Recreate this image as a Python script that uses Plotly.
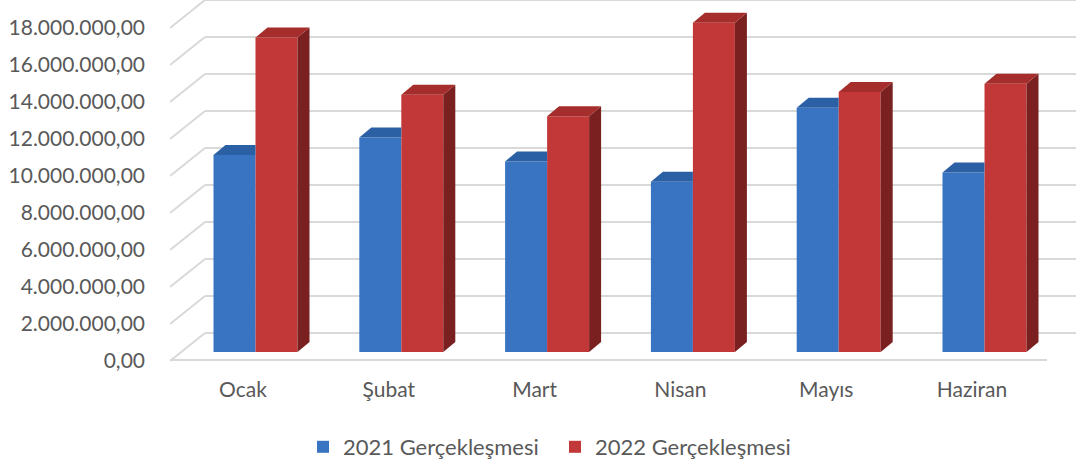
import numpy as np
import plotly.graph_objects as go

months = ["Ocak", "Şubat", "Mart", "Nisan", "Mayıs", "Haziran"]
series_names = ["2021 Gerçekleşmesi", "2022 Gerçekleşmesi"]
values_2021 = [10650000, 11600000, 10300000, 9200000, 13200000, 9700000]
values_2022 = [17000000, 13900000, 12750000, 17800000, 14050000, 14500000]
y_ticks = [0, 2000000, 4000000, 6000000, 8000000, 10000000, 12000000, 14000000, 16000000, 18000000]

# ---- geometry (pixel based oblique projection helpers) ----
W, H = 1076, 468
ML, MR, MT, MB = 170, 0, 0, 100
PX_X = 145.8            # px per category
X0_PX = 243             # pixel of category 0 label
PX_Y = 18.5 / 1e6       # px per unit value
BASE_PX = 352           # pixel of 0 on the bar plane

def xpx(p):
    return (p - X0_PX) / PX_X

def ypx(p):
    return (BASE_PX - p) / PX_Y

x_range = [xpx(ML), xpx(W - MR)]
y_range = [ypx(H - MB), ypx(MT)]
label_shift = (361 - BASE_PX) / PX_Y     # front plane offset
back_shift = (BASE_PX - 333) / PX_Y      # back wall offset

bw = 42 / PX_X
g = 12.5 / PX_X
ddx = 12 / PX_X
ddy = 10 / PX_Y

idx = np.arange(len(months))
v1 = np.array(values_2021, dtype=float)
v2 = np.array(values_2022, dtype=float)

c_blue, c_blue_top, c_blue_side = "#3874c2", "#2c60a4", "#234d86"
c_red, c_red_top, c_red_side = "#c23838", "#a52e2c", "#7a2020"
text_col = "#595959"
grid_col = "#d9d9d9"
FONT = "Lato"

def tr_fmt(t):
    s = f"{t:,.2f}"
    return s.replace(",", "#").replace(".", ",").replace("#", ".")

fig = go.Figure()

def polys(pts_list):
    xs, ys = [], []
    for pts in pts_list:
        for (a, b) in pts:
            xs.append(a)
            ys.append(b)
        xs.append(pts[0][0]); ys.append(pts[0][1])
        xs.append(None); ys.append(None)
    return xs, ys

# front faces (bars)
fig.add_trace(go.Bar(x=idx, y=v1, width=bw, offset=g - bw, name=series_names[0],
                     marker=dict(color=c_blue, line=dict(width=0)), hoverinfo="skip",
                     legend="legend"))
fig.add_trace(go.Bar(x=idx, y=v2, width=bw, offset=g, name=series_names[1],
                     marker=dict(color=c_red, line=dict(width=0)), hoverinfo="skip",
                     legend="legend2"))

# blue top faces (clipped at red front)
tops1 = []
for i, v in zip(idx, v1):
    xl, xr = i + g - bw, i + g
    tops1.append([(xl, v), (xl + ddx, v + ddy), (xr, v + ddy), (xr, v)])
xs, ys = polys(tops1)
fig.add_trace(go.Scatter(x=xs, y=ys, fill="toself", fillcolor=c_blue_top, mode="lines",
                         line=dict(width=0, color=c_blue_top), showlegend=False, hoverinfo="skip"))

# red side + top faces
sides2, tops2 = [], []
for i, v in zip(idx, v2):
    xl, xr = i + g, i + g + bw
    sides2.append([(xr, 0), (xr + ddx, ddy), (xr + ddx, v + ddy), (xr, v)])
    tops2.append([(xl, v), (xl + ddx, v + ddy), (xr + ddx, v + ddy), (xr, v)])
xs, ys = polys(sides2)
fig.add_trace(go.Scatter(x=xs, y=ys, fill="toself", fillcolor=c_red_side, mode="lines",
                         line=dict(width=0, color=c_red_side), showlegend=False, hoverinfo="skip"))
xs, ys = polys(tops2)
fig.add_trace(go.Scatter(x=xs, y=ys, fill="toself", fillcolor=c_red_top, mode="lines",
                         line=dict(width=0, color=c_red_top), showlegend=False, hoverinfo="skip"))

# walls: back gridlines + left wall diagonals
x_front_left = xpx(170)
x_back_left = xpx(205)
shapes = []
for t in y_ticks:
    yb = t + back_shift
    yf = t - label_shift
    shapes.append(dict(type="line", xref="x", yref="y", x0=x_back_left, x1=x_range[1],
                       y0=yb, y1=yb, line=dict(color=grid_col, width=2), layer="below"))
    shapes.append(dict(type="line", xref="x", yref="y", x0=x_front_left, x1=x_back_left,
                       y0=yf, y1=yb, line=dict(color=grid_col, width=2), layer="below"))
# floor front edge
shapes.append(dict(type="line", xref="x", yref="y", x0=x_front_left, x1=xpx(1047),
                   y0=ypx(360), y1=ypx(360), line=dict(color=grid_col, width=2), layer="below"))

def paper_x(p):
    return (p - ML) / (W - ML - MR)

leg_y = (H - MB - 447) / (H - MB - MT)
leg_font = dict(family=FONT, size=22, color=text_col)

fig.update_layout(
    width=W, height=H,
    margin=dict(l=ML, r=MR, t=MT, b=MB, autoexpand=False),
    paper_bgcolor="white", plot_bgcolor="white",
    barmode="overlay",
    font=dict(family=FONT, color=text_col, size=21),
    shapes=shapes,
    xaxis=dict(range=x_range, tickvals=idx, ticktext=months, showgrid=False, zeroline=False,
               showline=False, ticks="", ticklabelstandoff=7,
               tickfont=dict(family=FONT, size=21, color=text_col)),
    yaxis=dict(range=y_range, tickvals=[t - label_shift for t in y_ticks],
               ticktext=[tr_fmt(t) for t in y_ticks],
               showgrid=False, zeroline=False, showline=False, ticks="",
               ticklabelstandoff=24,
               tickfont=dict(family=FONT, size=21, color=text_col)),
    legend=dict(orientation="h", x=paper_x(303), xanchor="left", y=leg_y, yanchor="middle",
                font=leg_font, itemclick=False, bgcolor="rgba(0,0,0,0)"),
    legend2=dict(orientation="h", x=paper_x(555), xanchor="left", y=leg_y, yanchor="middle",
                 font=leg_font, itemclick=False, bgcolor="rgba(0,0,0,0)"),
    showlegend=True,
)

fig.write_html("out.html", config={"displayModeBar": False},
               post_script="document.body.style.margin='0';")
